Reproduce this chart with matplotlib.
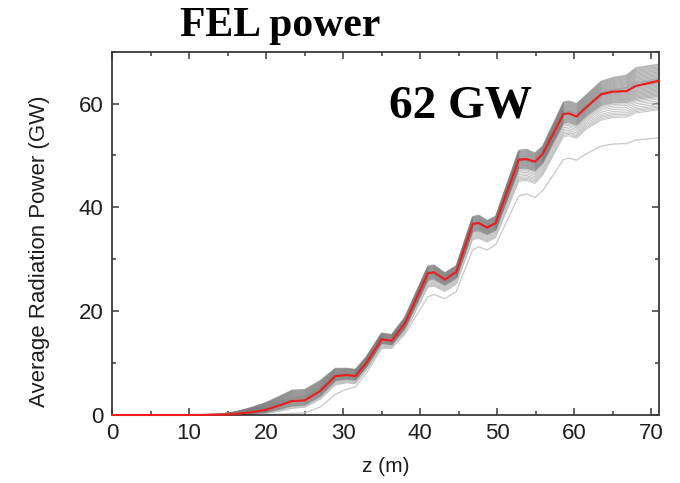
import numpy as np
import matplotlib
matplotlib.use("Agg")
import matplotlib.pyplot as plt
from matplotlib.ticker import MultipleLocator

# position along the undulator (m)
z = [0, 10, 14, 16, 18, 20, 22, 23.4, 25, 27, 29, 30.5, 31.6, 33, 35, 36.3, 38,
     41, 41.8, 43.2, 44.7, 46.8, 47.6, 48.7, 49.8, 52.8, 53.8, 54.9, 55.9,
     58.6, 59.3, 60.3, 61.5, 63.5, 65, 66.8, 68, 71]

# average over all shots (GW)
p_mean = [0, 0, 0.05, 0.2, 0.5, 1.0, 2.0, 2.7, 2.8, 4.6, 7.5, 7.7, 7.5, 10.0, 14.6, 14.3, 17.6,
          27.3, 27.5, 26.1, 27.6, 36.8, 37.0, 36.1, 37.0, 49.2, 49.3, 48.8, 50.3,
          58.0, 58.1, 57.5, 59.2, 61.8, 62.3, 62.4, 63.4, 64.4]

# upper / lower edge of the bulk of the shots
p_band_hi = [0, 0, 0.15, 0.6, 1.4, 2.4, 3.8, 4.8, 4.9, 6.6, 9.0, 9.0, 8.8, 11.2, 15.8, 15.5, 18.8,
             28.7, 28.9, 27.4, 28.8, 38.2, 38.5, 37.5, 38.3, 51.0, 51.2, 50.5, 51.8,
             60.3, 60.5, 60.0, 61.6, 64.3, 65.0, 65.5, 66.9, 67.6]
p_band_lo = [0, 0, 0, 0.05, 0.2, 0.5, 1.2, 1.8, 1.9, 3.6, 6.6, 6.9, 6.7, 9.2, 13.8, 13.5, 16.6,
             26.0, 26.2, 25.0, 26.4, 35.3, 35.5, 34.8, 35.6, 47.4, 47.5, 47.0, 48.5,
             56.2, 56.3, 55.8, 57.5, 59.6, 60.1, 60.2, 60.8, 61.4]
# lowest of the weaker shots
p_weak_lo = [0, 0, 0, 0, 0.1, 0.3, 0.8, 1.3, 1.5, 3.0, 5.8, 6.2, 6.0, 8.6, 13.0, 12.8, 15.8,
             24.6, 24.8, 23.8, 25.2, 33.8, 34.0, 33.3, 34.2, 45.0, 45.2, 44.6, 46.2,
             53.6, 53.8, 53.3, 55.0, 56.8, 57.3, 57.4, 58.2, 58.8]
# one shot well below the rest
p_worst = [0, 0, 0, 0, 0.05, 0.1, 0.2, 0.3, 0.4, 1.5, 4.0, 5.0, 5.4, 8.0, 12.8, 13.0, 15.5,
           22.8, 23.2, 22.4, 23.8, 31.8, 32.4, 31.8, 32.8, 42.2, 42.6, 41.9, 43.2,
           49.2, 49.5, 49.1, 50.3, 51.8, 52.2, 52.3, 53.0, 53.4]

# where each shot sits inside its band (0 = lower edge, 1 = upper edge)
bulk_pos = [0.0, 0.04, 0.08, 0.12, 0.16, 0.2, 0.24, 0.28, 0.32, 0.36, 0.4, 0.43, 0.46,
            0.5, 0.53, 0.56, 0.6, 0.64, 0.68, 0.72, 0.76, 0.8, 0.84, 0.88, 0.92, 0.96, 1.0]
weak_pos = [0.0, 0.1, 0.2, 0.3, 0.42, 0.55, 0.68, 0.8, 0.9]

z = np.array(z)
hi, lo, wlo = np.array(p_band_hi), np.array(p_band_lo), np.array(p_weak_lo)

plt.rcParams["font.family"] = ["Liberation Sans", "DejaVu Sans"]

fig = plt.figure(figsize=(6.8, 4.83), dpi=100)
ax = fig.add_axes([0.1647, 0.1408, 0.8044, 0.7522])

for f in weak_pos:
    ax.plot(z, wlo + f * (lo - wlo), color="#c4c4c4", lw=0.7, solid_joinstyle="round")
ax.plot(z, p_worst, color="#c8c8c8", lw=0.9, solid_joinstyle="round")
for f in bulk_pos:
    ax.plot(z, lo + f * (hi - lo), color="#7d7d7d", lw=0.9, alpha=0.55, solid_joinstyle="round")
ax.plot(z, p_mean, color="#ee1c1c", lw=1.5, zorder=4, clip_on=False, solid_joinstyle="round")

ax.set_xlim(0, 71)
ax.set_ylim(0, 70)
ax.xaxis.set_major_locator(MultipleLocator(10))
ax.xaxis.set_minor_locator(MultipleLocator(5))
ax.yaxis.set_major_locator(MultipleLocator(20))
ax.yaxis.set_minor_locator(MultipleLocator(10))
ax.tick_params(which="both", direction="in", top=True, right=True,
               color="#3a3a3a", width=1.1, labelsize=16, labelcolor="#1e1e1e")
ax.tick_params(which="major", length=5, pad=6)
ax.tick_params(which="minor", length=3)
for s in ax.spines.values():
    s.set_color("#3a3a3a")
    s.set_linewidth(1.3)

ax.set_xlabel("z (m)", fontsize=15, color="#1e1e1e", labelpad=9)
ax.set_ylabel("Average Radiation Power (GW)", fontsize=16, color="#1e1e1e")
ax.yaxis.set_label_coords(-0.113, 0.45)

ax.text(45.2, 57.4, "62 GW", family="Liberation Serif", weight="bold",
        fontsize=34, ha="center", va="baseline", color="black")
fig.text(0.412, 0.926, "FEL power", family="Liberation Serif", weight="bold",
         fontsize=30, ha="center", va="baseline", color="black")

fig.savefig("out.png", dpi=100)
